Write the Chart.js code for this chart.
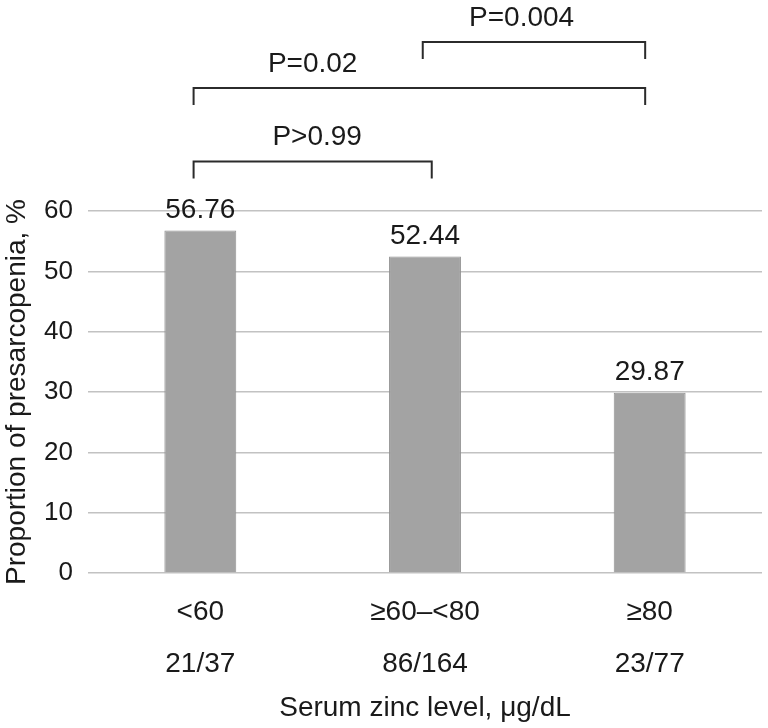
<!DOCTYPE html>
<html>
<head>
<meta charset="utf-8">
<script src="https://cdn.jsdelivr.net/npm/chart.js@4/dist/chart.umd.min.js"></script>
<style>
  body { margin: 0; background: #fff; }
  canvas { display: block; }
</style>
</head>
<body>
<canvas id="zincChart" width="768" height="728"></canvas>
<script>
// Data kategori dan nilai
const kategori = ['<60', '≥60–<80', '≥80'];
const jumlah = ['21/37', '86/164', '23/77'];
const proporsi = [56.76, 52.44, 29.87];
const yMin = 0;
const yMax = 60;
const yStep = 10;

// Data untuk garis perbandingan (P value)
const pText = ['P>0.99', 'P=0.02', 'P=0.004'];
const pDari = [-0.03, -0.03, 0.99];
const pSampai = [1.03, 1.98, 1.98];
const pTinggi = [68.2, 80.4, 88];
const pPosisiLabel = [0.52, 0.5, 1.43];

const warnaTeks = '#1a1a1a';
const hurufUtama = 'Liberation Sans, Arial, Helvetica, sans-serif';

// Plugin untuk label nilai di atas bar dan garis P value
const labelPlugin = {
    id: 'labelPlugin',
    afterDraw(chart) {
        const ctx = chart.ctx;
        const x = chart.scales.x;
        const y = chart.scales.y;
        ctx.save();
        ctx.fillStyle = warnaTeks;
        ctx.font = '28px ' + hurufUtama;
        ctx.textAlign = 'center';
        ctx.textBaseline = 'alphabetic';

        // Label nilai di atas tiap bar
        chart.getDatasetMeta(0).data.forEach(function (bar, i) {
            ctx.fillText(proporsi[i].toFixed(2), bar.x, bar.y - 13);
        });

        // Garis kurung P value
        ctx.strokeStyle = '#2b2b2b';
        ctx.lineWidth = 2;
        for (let i = 0; i < pText.length; i++) {
            const x1 = x.getPixelForValue(pDari[i]);
            const x2 = x.getPixelForValue(pSampai[i]);
            const yy = y.getPixelForValue(pTinggi[i]);
            ctx.beginPath();
            ctx.moveTo(x1, yy + 17);
            ctx.lineTo(x1, yy);
            ctx.lineTo(x2, yy);
            ctx.lineTo(x2, yy + 17);
            ctx.stroke();
            ctx.textBaseline = 'middle';
            ctx.fillText(pText[i], x.getPixelForValue(pPosisiLabel[i]), yy - 24);
        }
        ctx.restore();
    }
};

const ctx = document.getElementById('zincChart').getContext('2d');
const zincChart = new Chart(ctx, {
    type: 'bar',
    data: {
        labels: kategori.map((k, i) => [k, jumlah[i]]),
        datasets: [{
            label: 'Presarcopenia',
            data: proporsi,
            backgroundColor: '#a3a3a3',
            borderColor: '#919191',
            borderWidth: 1,
            categoryPercentage: 1,
            barPercentage: 0.32,
        }],
    },
    options: {
        responsive: false,
        animation: false,
        devicePixelRatio: 1,
        layout: {
            padding: { top: 211, right: 6, left: 0, bottom: 0 },
        },
        plugins: {
            legend: { display: false },
            tooltip: { enabled: false },
        },
        scales: {
            x: {
                grid: { display: false },
                border: { display: false },
                ticks: {
                    color: warnaTeks,
                    padding: 5,
                    maxRotation: 0,
                    font: { family: hurufUtama, size: 28, lineHeight: 52 / 28 },
                },
                title: {
                    display: true,
                    text: 'Serum zinc level, μg/dL',
                    color: warnaTeks,
                    padding: { top: 0, bottom: 3 },
                    font: { family: hurufUtama, size: 28 },
                },
                afterFit(scale) {
                    scale.height = 155;
                },
            },
            y: {
                min: yMin,
                max: yMax,
                grid: { color: '#c2c2c2', lineWidth: 1.5, drawTicks: false },
                border: { display: false },
                ticks: {
                    stepSize: yStep,
                    color: warnaTeks,
                    padding: 15,
                    font: { family: hurufUtama, size: 26 },
                },
                title: {
                    display: true,
                    text: 'Proportion of presarcopenia, %',
                    color: warnaTeks,
                    padding: 0,
                    font: { family: hurufUtama, size: 28 },
                },
                afterFit(scale) {
                    scale.width = 88;
                },
            },
        },
    },
    plugins: [labelPlugin],
});
</script>
</body>
</html>
